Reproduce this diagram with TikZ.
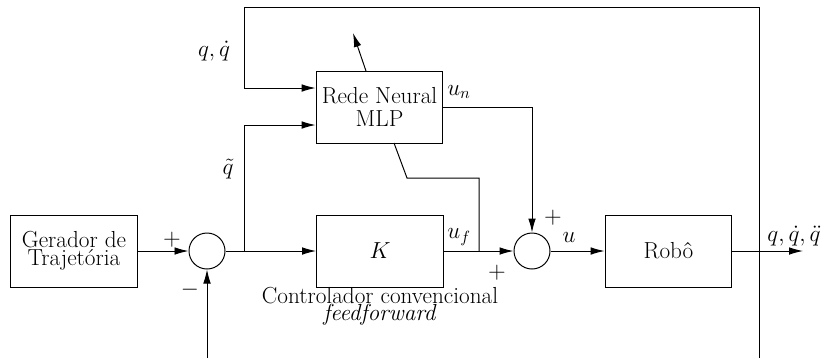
\RequirePackage{fix-cm}
\documentclass[tikz,border=0pt]{standalone}
\usetikzlibrary{arrows.meta}
\begin{document}
\begin{tikzpicture}[x=0.025cm,y=-0.025cm,
  every node/.style={font=\fontsize{16.5}{17}\selectfont},
  blk/.style={draw,line width=0.7pt,rectangle,minimum width=3.17cm,minimum height=1.8cm,inner sep=0pt,align=center},
  sum/.style={draw,line width=0.7pt,circle,minimum size=0.9cm,inner sep=0pt},
  wire/.style={line width=0.7pt},
  arr/.style={wire,-{Latex[length=3.5mm,width=1.9mm]}},
  lbl/.style={inner sep=1pt}]
\useasboundingbox (0,0) rectangle (826,358);
% blocks
\node[blk,minimum width=3.15cm] (gen) at (74,251) {Gerador de\\[-4pt]Trajetória};
\node[sum] (s1) at (207,251) {};
\node[blk] (K) at (380,251) {$K$};
\node[blk] (mlp) at (379.5,107) {Rede Neural\\[-1pt]MLP};
\node[sum] (s2) at (532,251) {};
\node[blk] (robo) at (668.5,251) {Robô};
% coordinates
\coordinate (b1) at (244,251);
\coordinate (m1) at (244,125);
\coordinate (t0) at (759,358);
\coordinate (t1) at (759,7);
\coordinate (t2) at (244,7);
\coordinate (t3) at (244,88);
\coordinate (fb) at (207,358);
\coordinate (b2) at (479,251);
\coordinate (b3) at (479,178);
\coordinate (b4) at (407,178);
\coordinate (b5) at (394,143);
\coordinate (un) at (532,107);
\coordinate (out) at (803,251);
\coordinate (d0) at (366,71);
\coordinate (d1) at (353,33);
% wires
\draw[arr] (gen.east) -- (s1.west);
\draw[arr] (s1.east) -- (K.west);
\draw[arr] (b1) -- (m1) -- (m1 -| mlp.west);
\draw[arr] (t0) -- (t1) -- (t2) -- (t3) -- (t3 -| mlp.west);
\draw[arr] (fb) -- (s1.south);
\draw[arr] (K.east) -- (s2.west);
\draw[wire] (b2) -- (b3) -- (b4) -- (b5);
\draw[arr] (mlp.east |- un) -- (un) -- (s2.north);
\draw[arr] (s2.east) -- (robo.west);
\draw[arr] (robo.east) -- (out);
\draw[arr] (d0) -- (d1);
% labels
\node[lbl] (p1) at (172,240) {$+$};
\node[lbl] (m1l) at (190,290) {$-$};
\node[lbl] (qt) at (228,169) {$\tilde q$};
\node[lbl] (qq) at (214,51) {$q,\dot q$};
\node[lbl] (unl) at (459,92) {$u_n$};
\node[lbl] (ufl) at (459,237) {$u_f$};
\node[lbl] (p2) at (553,218) {$+$};
\node[lbl] (p3) at (497,273) {$+$};
\node[lbl] (ul) at (569,237) {$u$};
\node[lbl] (qqq) at (794,236) {$q,\dot q,\ddot q$};
\node[lbl,align=center] (ctl) at (380,306) {Controlador convencional\\[-5pt]\textit{feedforward}};
\end{tikzpicture}
\end{document}
